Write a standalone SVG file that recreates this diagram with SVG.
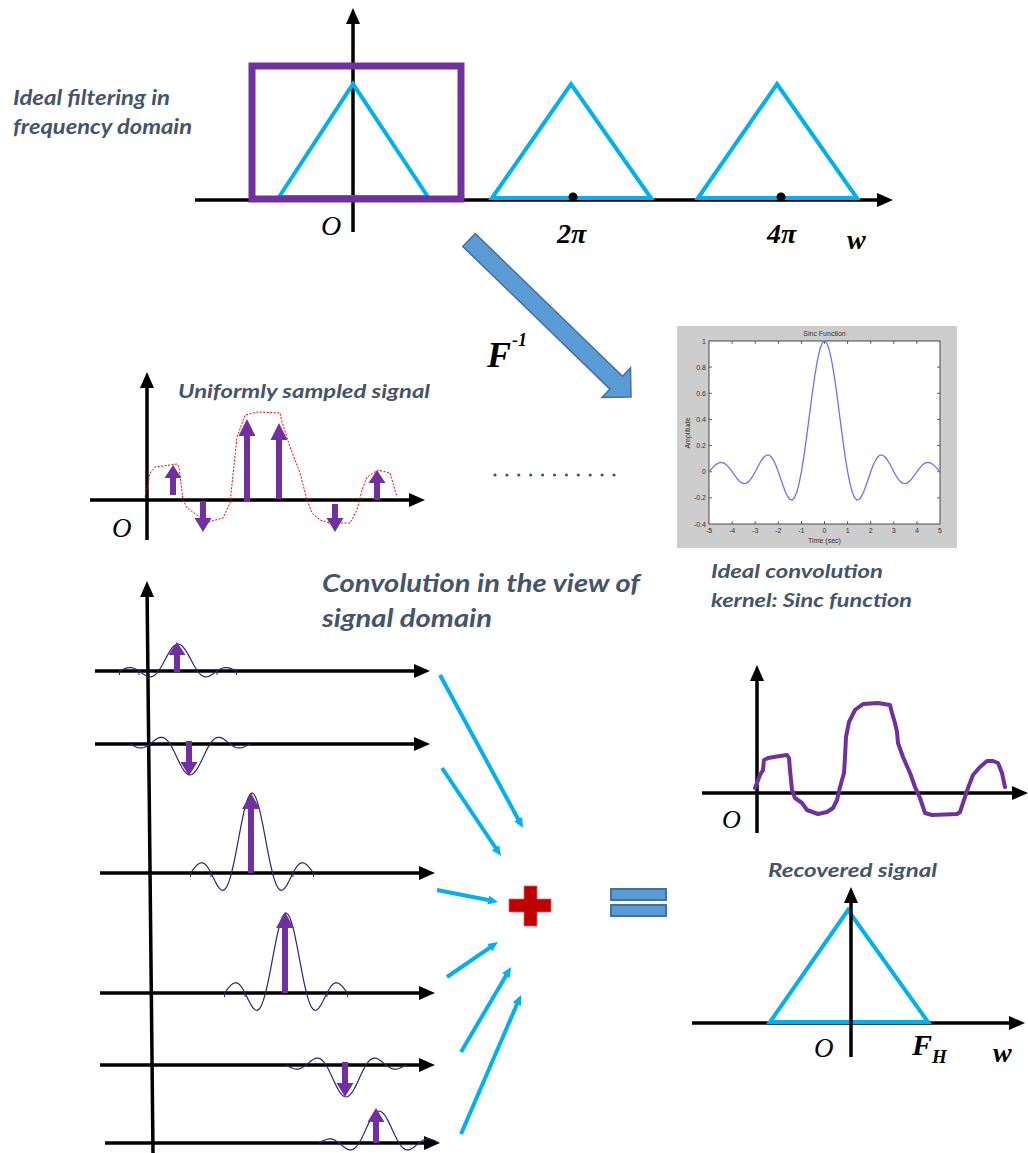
<svg xmlns="http://www.w3.org/2000/svg" xmlns:xlink="http://www.w3.org/1999/xlink" width="1028" height="1153" viewBox="0 0 1028 1153">
<defs>
<style>
.ax{stroke:#000;stroke-width:3.5;fill:none;marker-end:url(#ah)}
.tri{stroke:#00b0f0;stroke-width:4;fill:none;stroke-linejoin:miter}
.lbl{font-family:Lato,"Liberation Sans",sans-serif;font-weight:bold;font-style:italic;fill:#44546a}
.math{font-family:"Liberation Serif","Times New Roman",serif;font-style:italic;fill:#000}
.mb{font-weight:bold}
.pa{fill:#7030a0}
.cy{stroke:#00b0f0;stroke-width:4;fill:none;marker-end:url(#ch)}
.tk{font-family:"Liberation Sans",Arial,sans-serif;font-size:7px;fill:#333}
</style>
<marker id="ah" markerUnits="userSpaceOnUse" markerWidth="16" markerHeight="14" refX="3" refY="7" orient="auto"><path d="M0,0 L16,7 L0,14 z" fill="#000"/></marker>
<marker id="ch" markerUnits="userSpaceOnUse" markerWidth="10" markerHeight="10" refX="4" refY="5" orient="auto"><path d="M0,0.5 L10,5 L0,9.5 z" fill="#00b0f0"/></marker>
<path id="k" d="M-3,0 L-2.9,-.0339 -2.8,-.0668 -2.7,-.0954 -2.6,-.1164 -2.5,-.1273 -2.4,-.1261 -2.3,-.1120 -2.2,-.0851 -2.1,-.0468 -2,0 -1.9,.0518 -1.8,.1039 -1.7,.1515 -1.6,.1892 -1.5,.2122 -1.4,.2162 -1.3,.1981 -1.2,.1559 -1.1,.0894 -1,0 -.9,-.1093 -.8,-.2339 -.7,-.3679 -.6,-.5046 -.5,-.6366 -.4,-.7568 -.3,-.8584 -.2,-.9355 -.1,-.9836 0,-1 .1,-.9836 .2,-.9355 .3,-.8584 .4,-.7568 .5,-.6366 .6,-.5046 .7,-.3679 .8,-.2339 .9,-.1093 1,0 1.1,.0894 1.2,.1559 1.3,.1981 1.4,.2162 1.5,.2122 1.6,.1892 1.7,.1515 1.8,.1039 1.9,.0518 2,0 2.1,-.0468 2.2,-.0851 2.3,-.1120 2.4,-.1261 2.5,-.1273 2.6,-.1164 2.7,-.0954 2.8,-.0668 2.9,-.0339 3,0" fill="none" stroke="#2b2675" stroke-width="1.2" vector-effect="non-scaling-stroke"/>
<path id="kt" d="M-3,0v4M-2,0v4M2,0v4M3,0v4" fill="none" stroke="#2b2675" stroke-width="1" vector-effect="non-scaling-stroke"/>
</defs>
<rect width="1028" height="1153" fill="#fff"/>

<!-- Top: ideal filtering in frequency domain -->
<g id="freq-filter">
<line class="ax" x1="195" y1="200" x2="880" y2="200"/>
<line class="ax" x1="353" y1="232" x2="353" y2="21"/>
<polygon class="tri" points="279,197 353,84 428,197"/>
<polygon class="tri" points="492,198 571,84 651,198"/>
<polygon class="tri" points="698,198 777,84 857,198"/>
<rect x="252" y="66" width="209" height="133" fill="none" stroke="#7030a0" stroke-width="7"/>
<circle cx="573" cy="197" r="4.5" fill="#000"/>
<circle cx="781" cy="197" r="4.5" fill="#000"/>
<text class="math" x="321" y="235" font-size="28">O</text>
<text class="math mb" x="557" y="243" font-size="28">2π</text>
<text class="math mb" x="767" y="243" font-size="28">4π</text>
<text class="math mb" x="847" y="249" font-size="28">w</text>
<text class="lbl" x="13" y="105" font-size="20" textLength="157" lengthAdjust="spacingAndGlyphs">Ideal filtering in</text>
<text class="lbl" x="13" y="134" font-size="20" textLength="179" lengthAdjust="spacingAndGlyphs">frequency domain</text>
</g>

<!-- Inverse Fourier arrow -->
<g id="inverse-ft">
<polygon transform="translate(469,240) rotate(44.1)" points="0,-9 205,-9 205,-20.5 225.6,0 205,20.5 205,9 0,9" fill="#5b9bd5" stroke="#41719c" stroke-width="1.5" stroke-linejoin="miter"/>
<text class="math mb" x="487" y="367" font-size="36">F</text>
<text class="math mb" x="512" y="346" font-size="18">-1</text>
</g>

<!-- Sinc plot -->
<g id="sinc-plot">
<rect x="677" y="326" width="280" height="222" fill="#cdcdcd"/>
<rect x="709" y="341" width="231" height="183" fill="#fff" stroke="#222" stroke-width="0.8"/>
<path d="M732.1,524v-3M755.2,524v-3M778.3,524v-3M801.4,524v-3M824.5,524v-3M847.6,524v-3M870.7,524v-3M893.8,524v-3M916.9,524v-3M732.1,341v3M755.2,341v3M778.3,341v3M801.4,341v3M824.5,341v3M847.6,341v3M870.7,341v3M893.8,341v3M916.9,341v3M709,367.1h3M709,393.3h3M709,419.4h3M709,445.6h3M709,471.7h3M709,497.8h3M940,367.1h-3M940,393.3h-3M940,419.4h-3M940,445.6h-3M940,471.7h-3M940,497.8h-3" stroke="#222" stroke-width="0.7" fill="none"/>
<g transform="translate(824.5,471.7) scale(23.1,-130.7)">
<path d="M-5,0 L-4.9,.0201 -4.8,.0390 -4.7,.0548 -4.6,.0658 -4.5,.0707 -4.4,.0688 -4.3,.0599 -4.2,.0446 -4.1,.0240 -4,0 -3.9,-.0252 -3.8,-.0492 -3.7,-.0696 -3.6,-.0841 -3.5,-.0909 -3.4,-.0890 -3.3,-.0780 -3.2,-.0585 -3.1,-.0317 -3,0 -2.9,.0339 -2.8,.0668 -2.7,.0954 -2.6,.1164 -2.5,.1273 -2.4,.1261 -2.3,.1120 -2.2,.0851 -2.1,.0468 -2,0 -1.9,-.0518 -1.8,-.1039 -1.7,-.1515 -1.6,-.1892 -1.5,-.2122 -1.4,-.2162 -1.3,-.1981 -1.2,-.1559 -1.1,-.0894 -1,0 -.9,.1093 -.8,.2339 -.7,.3679 -.6,.5046 -.5,.6366 -.4,.7568 -.3,.8584 -.2,.9355 -.1,.9836 0,1 .1,.9836 .2,.9355 .3,.8584 .4,.7568 .5,.6366 .6,.5046 .7,.3679 .8,.2339 .9,.1093 1,0 1.1,-.0894 1.2,-.1559 1.3,-.1981 1.4,-.2162 1.5,-.2122 1.6,-.1892 1.7,-.1515 1.8,-.1039 1.9,-.0518 2,0 2.1,.0468 2.2,.0851 2.3,.1120 2.4,.1261 2.5,.1273 2.6,.1164 2.7,.0954 2.8,.0668 2.9,.0339 3,0 3.1,-.0317 3.2,-.0585 3.3,-.0780 3.4,-.0890 3.5,-.0909 3.6,-.0841 3.7,-.0696 3.8,-.0492 3.9,-.0252 4,0 4.1,.0240 4.2,.0446 4.3,.0599 4.4,.0688 4.5,.0707 4.6,.0658 4.7,.0548 4.8,.0390 4.9,.0201 5,0" fill="none" stroke="#6f6fff" stroke-width="1.3" vector-effect="non-scaling-stroke"/>
</g>
<text class="tk" x="824.5" y="336" text-anchor="middle">Sinc Function</text>
<text class="tk" x="824.5" y="543" text-anchor="middle">Time (sec)</text>
<text class="tk" transform="translate(690,433) rotate(-90)" text-anchor="middle">Amplitude</text>
<g text-anchor="end">
<text class="tk" x="706" y="343.5">1</text>
<text class="tk" x="706" y="369.6">0.8</text>
<text class="tk" x="706" y="395.8">0.6</text>
<text class="tk" x="706" y="421.9">0.4</text>
<text class="tk" x="706" y="448.1">0.2</text>
<text class="tk" x="706" y="474.2">0</text>
<text class="tk" x="706" y="500.3">-0.2</text>
<text class="tk" x="706" y="526.5">-0.4</text>
</g>
<g text-anchor="middle">
<text class="tk" x="709" y="533">-5</text>
<text class="tk" x="732.1" y="533">-4</text>
<text class="tk" x="755.2" y="533">-3</text>
<text class="tk" x="778.3" y="533">-2</text>
<text class="tk" x="801.4" y="533">-1</text>
<text class="tk" x="824.5" y="533">0</text>
<text class="tk" x="847.6" y="533">1</text>
<text class="tk" x="870.7" y="533">2</text>
<text class="tk" x="893.8" y="533">3</text>
<text class="tk" x="916.9" y="533">4</text>
<text class="tk" x="940" y="533">5</text>
</g>
</g>

<g id="kernel-label">
<text class="lbl" x="711" y="578" font-size="19" textLength="172" lengthAdjust="spacingAndGlyphs">Ideal convolution</text>
<text class="lbl" x="711" y="607" font-size="19" textLength="201" lengthAdjust="spacingAndGlyphs">kernel: Sinc function</text>
</g>

<!-- Sampled signal -->
<g id="sampled-signal">
<line class="ax" x1="90" y1="500" x2="412" y2="500"/>
<line class="ax" x1="147" y1="540" x2="147" y2="385"/>
<polyline points="145,497 150,473 155,467 177,464 179,467 183,500 187,508 200,517 208,522 223,518 230,503 237,437 245,415 257,412 280,413 282,422 290,447 300,473 307,500 312,513 320,520 330,523 350,523 357,510 362,490 367,477 378,470 390,473 397,497" fill="none" stroke="#ff0000" stroke-width="1" stroke-dasharray="2,1.5"/>
<polygon class="pa" points="170,495 170,478 164.5,478 173,465 181.5,478 176,478 176,495"/>
<polygon class="pa" points="200,501 200,518 194.5,518 203,532 211.5,518 206,518 206,501"/>
<polygon class="pa" points="244,502 244,436 238.5,436 247,419 255.5,436 250,436 250,502"/>
<polygon class="pa" points="276,499 276,440 270.5,440 279,423 287.5,440 282,440 282,499"/>
<polygon class="pa" points="332,504 332,518 326.5,518 335,532 343.5,518 338,518 338,504"/>
<polygon class="pa" points="374,500 374,483 368.5,483 377,470 385.5,483 380,483 380,500"/>
<text class="math" x="112" y="537" font-size="27">O</text>
<text class="lbl" x="178" y="398" font-size="18" textLength="252" lengthAdjust="spacingAndGlyphs">Uniformly sampled signal</text>
</g>

<g id="ellipsis" fill="#44546a">
<circle cx="495" cy="475" r="1.6"/><circle cx="506.9" cy="475" r="1.6"/><circle cx="518.8" cy="475" r="1.6"/><circle cx="530.7" cy="475" r="1.6"/><circle cx="542.6" cy="475" r="1.6"/><circle cx="554.5" cy="475" r="1.6"/><circle cx="566.4" cy="475" r="1.6"/><circle cx="578.3" cy="475" r="1.6"/><circle cx="590.2" cy="475" r="1.6"/><circle cx="602.1" cy="475" r="1.6"/><circle cx="614" cy="475" r="1.6"/>
</g>

<g id="conv-title">
<text class="lbl" x="322" y="592" font-size="25" textLength="318" lengthAdjust="spacingAndGlyphs">Convolution in the view of</text>
<text class="lbl" x="322" y="627" font-size="25" textLength="170" lengthAdjust="spacingAndGlyphs">signal domain</text>
</g>

<!-- Convolution rows -->
<g id="conv-rows">
<line class="ax" x1="153" y1="1153" x2="147.1" y2="594"/>
<g id="row1">
<line class="ax" x1="95" y1="671" x2="417" y2="671"/>
<use xlink:href="#k" href="#k" transform="translate(178,671) scale(19.5,27)"/>
<use xlink:href="#kt" href="#kt" transform="translate(178,671) scale(19.5,1)"/>
<polygon class="pa" points="174,672 174,655 168.5,655 177,642 185.5,655 180,655 180,672"/>
</g>
<g id="row2">
<line class="ax" x1="95" y1="744" x2="417" y2="744"/>
<use xlink:href="#k" href="#k" transform="translate(190,744) scale(20,-31)"/>
<polygon class="pa" points="186,741 186,762 180.5,762 189,776 197.5,762 192,762 192,741"/>
</g>
<g id="row3">
<line class="ax" x1="100" y1="873" x2="422" y2="873"/>
<use xlink:href="#k" href="#k" transform="translate(252,873) scale(20.5,80)"/>
<use xlink:href="#kt" href="#kt" transform="translate(252,873) scale(20.5,1)"/>
<polygon class="pa" points="248,873 248,809 242,809 251,793 260,809 254,809 254,873"/>
</g>
<g id="row4">
<line class="ax" x1="100" y1="993" x2="422" y2="993"/>
<use xlink:href="#k" href="#k" transform="translate(286,993) scale(20.5,80)"/>
<use xlink:href="#kt" href="#kt" transform="translate(286,993) scale(20.5,1)"/>
<polygon class="pa" points="282,993 282,928 276,928 285,912 294,928 288,928 288,993"/>
</g>
<g id="row5">
<line class="ax" x1="100" y1="1065" x2="422" y2="1065"/>
<use xlink:href="#k" href="#k" transform="translate(346,1065) scale(20,-32)"/>
<polygon class="pa" points="342,1062 342,1083 336.5,1083 345,1097 353.5,1083 348,1083 348,1062"/>
</g>
<g id="row6">
<line class="ax" x1="105" y1="1143" x2="427" y2="1143"/>
<use xlink:href="#k" href="#k" transform="translate(379,1143) scale(20,32)"/>
<polygon class="pa" points="373,1143 373,1122 367.5,1122 376,1108 384.5,1122 379,1122 379,1143"/>
</g>
</g>

<!-- Connectors -->
<g id="connectors">
<line class="cy" x1="440" y1="675" x2="520.1" y2="822.7"/>
<line class="cy" x1="442" y1="768" x2="497.7" y2="851"/>
<line class="cy" x1="437" y1="890" x2="492.1" y2="900.8"/>
<line class="cy" x1="447" y1="977" x2="493.1" y2="945.4"/>
<line class="cy" x1="461" y1="1052" x2="508" y2="972.2" stroke-width="5"/>
<line class="cy" x1="461" y1="1134" x2="518.6" y2="1000.5"/>
</g>

<g id="plus">
<path d="M509,899 H524 V886 H537 V899 H551 V912 H537 V926 H524 V912 H509 Z" fill="#c00000" stroke="#e06666" stroke-width="0.8"/>
</g>
<g id="equals" fill="#5b9bd5" stroke="#41719c" stroke-width="2">
<rect x="611" y="889" width="55" height="11"/>
<rect x="611" y="905" width="55" height="11"/>
</g>

<!-- Recovered signal (time domain) -->
<g id="recovered-time">
<line class="ax" x1="702" y1="793" x2="1015" y2="793"/>
<line class="ax" x1="757" y1="833" x2="757" y2="678"/>
<polyline points="755,788 760,775 763,770 764,760 768,758 780,756 787,755 789,758 790,770 791,780 792,790 795,798 802,803 807,810 818,814 827,812 833,808 837,800 840,787 844,773 845,757 846,737 849,722 855,710 863,704 878,703 890,705 892,713 895,723 897,732 898,743 903,757 910,773 915,787 920,798 923,807 925,813 932,815 957,814 960,812 963,803 968,788 973,775 980,767 987,761 993,761 998,763 1002,773 1005,787" fill="none" stroke="#7030a0" stroke-width="4" stroke-linejoin="round" stroke-linecap="round"/>
<text class="math" x="722" y="828" font-size="26">O</text>
</g>

<!-- Recovered signal (frequency domain) -->
<g id="recovered-freq">
<text class="lbl" x="768" y="877" font-size="18" textLength="169" lengthAdjust="spacingAndGlyphs">Recovered signal</text>
<line class="ax" x1="692" y1="1023" x2="1012" y2="1023"/>
<polygon class="tri" points="770,1022 848,910 928,1022"/>
<line class="ax" x1="851" y1="1057" x2="851" y2="900"/>
<text class="math" x="814" y="1057" font-size="27">O</text>
<text class="math mb" x="912" y="1055" font-size="30">F</text>
<text class="math mb" x="932" y="1063" font-size="19">H</text>
<text class="math mb" x="993" y="1062" font-size="28">w</text>
</g>
</svg>
